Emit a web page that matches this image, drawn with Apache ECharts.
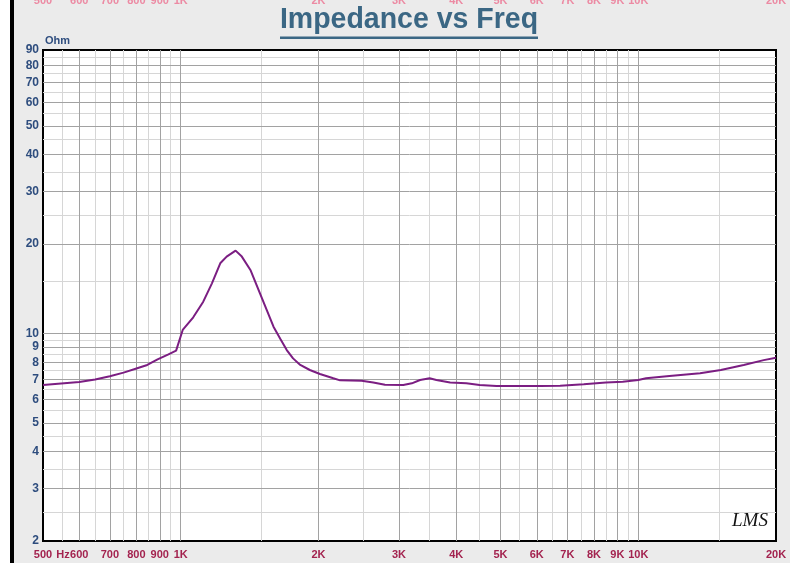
<!DOCTYPE html>
<html><head><meta charset="utf-8">
<style>html,body{margin:0;padding:0;background:#ffffff;}#c{width:796px;height:563px;}</style>
<script src="https://cdn.jsdelivr.net/npm/echarts@6/dist/echarts.min.js"></script>
</head><body><div id="c"></div>
<script>
const freqHz = [500, 600, 650, 700, 750, 800, 845, 890, 940, 977, 1010, 1065, 1120, 1170, 1220, 1260, 1318, 1360, 1420, 1490, 1595, 1650, 1705, 1760, 1825, 1915, 2015, 2155, 2230, 2485, 2635, 2795, 3065, 3200, 3335, 3500, 3620, 3880, 4210, 4500, 4900, 6100, 6750, 7600, 8500, 9250, 10000, 10400, 11700, 13650, 15150, 17000, 18800, 20000];
const impedanceOhm = [6.70, 6.86, 7.00, 7.17, 7.38, 7.62, 7.83, 8.18, 8.50, 8.75, 10.27, 11.33, 12.79, 14.74, 17.22, 18.14, 19.0, 18.14, 16.35, 13.65, 10.53, 9.6, 8.79, 8.24, 7.83, 7.53, 7.30, 7.06, 6.95, 6.93, 6.84, 6.72, 6.70, 6.79, 6.97, 7.06, 6.97, 6.83, 6.79, 6.70, 6.65, 6.65, 6.67, 6.74, 6.83, 6.88, 6.97, 7.06, 7.19, 7.34, 7.53, 7.83, 8.13, 8.28];

// Axis ticks
const xTickValues = [500, 600, 700, 800, 900, 1000, 2000, 3000, 4000, 5000, 6000, 7000, 8000, 9000, 10000, 20000];
const xTickLabels = ['500', '600', '700', '800', '900', '1K', '2K', '3K', '4K', '5K', '6K', '7K', '8K', '9K', '10K', '20K'];
const yTickValues = [2, 3, 4, 5, 6, 7, 8, 9, 10, 20, 30, 40, 50, 60, 70, 80, 90];

// Grid lines
const xMajorGrid = [600, 700, 800, 900, 1000, 2000, 3000, 4000, 5000, 6000, 7000, 8000, 9000, 10000];
const xMinorGrid = [550, 650, 750, 850, 950, 1500, 2500, 3500, 4500, 5500, 6500, 7500, 8500, 9500, 15000];
const yMajorGrid = [3, 4, 5, 6, 7, 8, 9, 10, 20, 30, 40, 50, 60, 70, 80];
const yMinorGrid = [2.5, 3.5, 4.5, 5.5, 6.5, 7.5, 8.5, 9.5, 15, 25, 35, 45, 55, 65, 75, 85];

const FONT = '"Liberation Sans", Arial, sans-serif';

function xLabel(v) {
  const i = xTickValues.findIndex(t => Math.abs(Math.log10(t) - Math.log10(v)) < 1e-6);
  return i >= 0 ? xTickLabels[i] : '';
}
function yLabel(v) { return String(Math.round(v)); }

const chart = echarts.init(document.getElementById('c'), null, {renderer: 'canvas'});

function gridSeries(xs, ys, color, z) {
  return {
    type: 'line', data: [], z: z, silent: true, animation: false,
    markLine: {
      silent: true, animation: false, symbol: ['none', 'none'],
      label: {show: false},
      lineStyle: {color: color, width: 1, type: 'solid'},
      emphasis: {disabled: true},
      data: xs.map(v => ({xAxis: v})).concat(ys.map(v => ({yAxis: v})))
    }
  };
}

chart.setOption({
  animation: false,
  backgroundColor: 'transparent',
  grid: {left: 43, right: 20, top: 50, bottom: 22, containLabel: false, outerBoundsMode: 'none', show: true, backgroundColor: '#ffffff', borderColor: '#000000', borderWidth: 2, z: 0},
  xAxis: [{
    type: 'log', logBase: 10, min: 500, max: 20000, position: 'bottom',
    axisLine: {show: false}, axisTick: {show: false}, splitLine: {show: false},
    axisLabel: {customValues: xTickValues, formatter: xLabel, color: '#a3234f', fontFamily: FONT, fontWeight: 'bold', fontSize: 11, margin: 8, hideOverlap: false}
  }, {
    type: 'log', logBase: 10, min: 500, max: 20000, position: 'top', offset: 40,
    axisLine: {show: false}, axisTick: {show: false}, splitLine: {show: false},
    axisLabel: {customValues: xTickValues, formatter: xLabel, color: '#ec8aa3', fontFamily: FONT, fontWeight: 'bold', fontSize: 11, margin: 4, hideOverlap: false}
  }],
  yAxis: {
    type: 'log', logBase: 10, min: 2, max: 90,
    axisLine: {show: false}, axisTick: {show: false}, splitLine: {show: false},
    axisLabel: {customValues: yTickValues, formatter: yLabel, color: '#2e4d7e', fontFamily: FONT, fontWeight: 'bold', fontSize: 12, margin: 4, hideOverlap: false}
  },
  graphic: [
    {type: 'rect', shape: {x: 0, y: 0, width: 796, height: 563}, style: {fill: '#ffffff'}, z: -20, silent: true},
    {type: 'rect', shape: {x: 14, y: 0, width: 776, height: 563}, style: {fill: '#ebebeb'}, z: -19, silent: true},
    {type: 'rect', shape: {x: 10, y: 0, width: 4, height: 563}, style: {fill: '#000000'}, z: -18, silent: true},
    {type: 'text', x: 409, y: 20, scaleX: 0.95, style: {text: 'Impedance vs Freq', font: 'bold 30px ' + FONT, fill: '#3b6784', align: 'center', verticalAlign: 'middle'}, z: 10},
    {type: 'rect', shape: {x: 280, y: 36.5, width: 258, height: 2.5}, style: {fill: '#3b6784'}, z: 10},
    {type: 'text', x: 45, y: 41, style: {text: 'Ohm', font: 'bold 11px ' + FONT, fill: '#2e4d7e', align: 'left', verticalAlign: 'middle'}, z: 10},
    {type: 'text', x: 63, y: 554.5, style: {text: 'Hz', font: 'bold 11px ' + FONT, fill: '#a3234f', align: 'center', verticalAlign: 'middle'}, z: 10},
    {type: 'text', x: 750, y: 521, style: {text: 'LMS', font: 'italic 19px "Liberation Serif", serif', fill: '#111111', align: 'center', verticalAlign: 'middle'}, z: 10}
  ],
  series: [
    gridSeries(xMinorGrid, yMinorGrid, '#d6d6d6', 1),
    gridSeries(xMajorGrid, yMajorGrid, '#a2a2a2', 2),
    {
      type: 'line', z: 5, symbol: 'none', smooth: false, animation: false,
      lineStyle: {color: '#7b1e82', width: 2},
      data: freqHz.map((f, i) => [f, impedanceOhm[i]])
    }
  ]
});
</script>
</body></html>
